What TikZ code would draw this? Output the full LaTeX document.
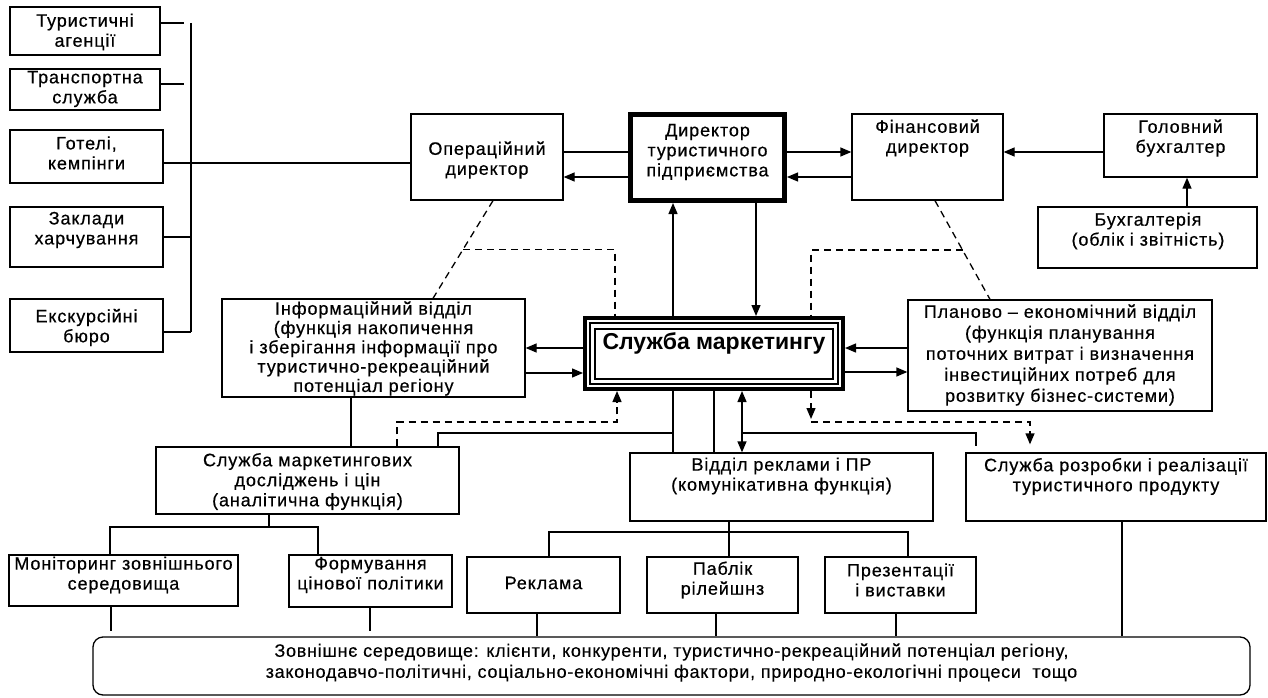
\documentclass[tikz,border=0pt]{standalone}
\usepackage{fontspec}
\newfontfamily\boxfont{Liberation Sans}[LetterSpace=5,FakeBold=0.5]
\newfontfamily\envfont{Liberation Sans}[LetterSpace=4,FakeBold=0.3]
\newfontfamily\headfont{Liberation Sans Bold}
\usetikzlibrary{arrows.meta,calc}
\begin{document}
\begin{tikzpicture}[x=1pt,y=-1pt,
  frame/.style={draw, line width=1.3pt, fill=white, inner sep=0pt},
  lbl/.style={align=center, inner sep=0pt, font=\boxfont\fontsize{18pt}{20pt}\selectfont},
  link/.style={line width=1.3pt},
  tip/.style={-{Triangle[length=11pt,width=9pt]}},
  dsh/.style={line width=1.3pt, dash pattern=on 7pt off 5pt},
]
\useasboundingbox (0,0) rectangle (1268,698);

% ---- boxes ----
\node[frame, minimum width=150pt, minimum height=48pt] (ta) at (85,31) {};
\node[frame, minimum width=150pt, minimum height=41pt] (ts) at (85,89.5) {};
\node[frame, minimum width=153pt, minimum height=53pt] (hk) at (86.5,156.5) {};
\node[frame, minimum width=153pt, minimum height=60pt] (zh) at (86.5,237) {};
\node[frame, minimum width=153pt, minimum height=53pt] (eb) at (86.5,325.5) {};

\node[frame, minimum width=152pt, minimum height=86pt] (op) at (487,157) {};
\node[frame, line width=5pt, minimum width=154pt, minimum height=86pt] (dir) at (707.5,157.5) {};
\node[frame, minimum width=151pt, minimum height=86pt] (fin) at (927.5,157) {};
\node[frame, minimum width=153pt, minimum height=63pt] (gb) at (1180.5,145.5) {};
\node[frame, minimum width=219pt, minimum height=61pt] (bh) at (1147.5,237.5) {};

\node[frame, minimum width=303pt, minimum height=98pt] (info) at (373.5,348) {};
\node[frame, line width=4pt, minimum width=258pt, minimum height=71pt] (sm) at (714,353.5) {};
\draw[line width=2pt] ($(sm.north west)+(7,7)$) rectangle ($(sm.south east)+(-7,-7)$);
\draw[line width=1.5pt] ($(sm.north west)+(12,13)$) rectangle ($(sm.south east)+(-12,-12)$);
\node[frame, minimum width=304pt, minimum height=111pt] (plan) at (1060,355.5) {};

\node[frame, minimum width=303pt, minimum height=67pt] (smd) at (307.5,480.5) {};
\node[frame, minimum width=303pt, minimum height=68pt] (vr) at (781.5,487) {};
\node[frame, minimum width=300pt, minimum height=68pt] (sr) at (1116,487) {};

\node[frame, minimum width=229pt, minimum height=51pt] (mon) at (123.5,580.5) {};
\node[frame, minimum width=163pt, minimum height=52pt] (form) at (370.5,581) {};
\node[frame, minimum width=153pt, minimum height=56pt] (rek) at (543.5,585) {};
\node[frame, minimum width=151pt, minimum height=56pt] (pub) at (722.5,585) {};
\node[frame, minimum width=151pt, minimum height=56pt] (pres) at (900.5,585) {};

\node[frame, rounded corners=10pt, minimum width=1157pt, minimum height=58pt] (env) at (671.5,666) {};

% ---- texts ----
\node[lbl] (ta-t) at (85,32) {Туристичні\\агенції};
\node[lbl] (ts-t) at (85,89) {Транспортна\\служба};
\node[lbl] (hk-t) at (86.5,153) {Готелі,\\кемпінги};
\node[lbl] (zh-t) at (86.5,230) {Заклади\\харчування};
\node[lbl] (eb-t) at (86.5,327.5) {Екскурсійні\\бюро};
\node[lbl] (op-t) at (487,160) {Операційний\\директор};
\node[lbl] (dir-t) at (707.5,152) {Директор\\туристичного\\підприємства};
\node[lbl] (fin-t) at (927.5,138) {Фінансовий\\директор};
\node[lbl] (gb-t) at (1180.5,138) {Головний\\бухгалтер};
\node[lbl] (bh-t) at (1148,231) {Бухгалтерія\\(облік і звітність)};
\node[lbl, font=\boxfont\fontsize{18pt}{19.3pt}\selectfont] (info-t) at (373.5,348.5)
  {Інформаційний відділ\\(функція накопичення\\і зберігання інформації про\\туристично-рекреаційний\\потенціал регіону};
\node[inner sep=0pt, font=\headfont\fontsize{23pt}{25pt}\selectfont] (sm-t) at (714,343) {Служба маркетингу};
\node[lbl, font=\boxfont\fontsize{18pt}{21pt}\selectfont] (plan-t) at (1060,355)
  {Планово – економічний відділ\\(функція планування\\поточних витрат і визначення\\інвестиційних потреб для\\розвитку бізнес-системи)};
\node[lbl] (smd-t) at (307.5,481.5) {Служба маркетингових\\досліджень і цін\\(аналітична функція)};
\node[lbl] (vr-t) at (781.5,476) {Відділ реклами і ПР\\(комунікативна функція)};
\node[lbl] (sr-t) at (1116,476.5) {Служба розробки і реалізації\\туристичного продукту};
\node[lbl] (mon-t) at (123.5,575) {Моніторинг зовнішнього\\середовища};
\node[lbl] (form-t) at (370.5,575) {Формування\\цінової політики};
\node[lbl] (rek-t) at (543.5,583) {Реклама};
\node[lbl] (pub-t) at (722.5,580) {Паблік\\рілейшнз};
\node[lbl] (pres-t) at (900.5,580) {Презентації\\і виставки};
\node[lbl, font=\envfont\fontsize{18pt}{21pt}\selectfont] (env-t) at (671.5,662.5)
  {Зовнішнє середовище: клієнти, конкуренти, туристично-рекреаційний потенціал регіону,\\законодавчо-політичні, соціально-економічні фактори, природно-екологічні процеси\ \ тощо};

% ---- suppliers bus ----
\coordinate (bus-a) at (191,23);
\coordinate (bus-b) at (191,332);
\coordinate (ta-end) at (184,23);
\coordinate (ts-end) at (184,84);
\draw[link] (bus-a) -- (bus-b);
\draw[link] (ta.east |- 0,23) -- (ta-end);
\draw[link] (ts.east |- 0,84) -- (ts-end);
\draw[link] (hk.east |- 0,163) -- (op.west |- 0,163);
\draw[link] (zh.east |- 0,237) -- (bus-b |- 0,237);
\draw[link] (eb.east |- 0,332) -- (bus-b);

% ---- top management ----
\draw[link] (op.east |- 0,152) -- (dir.west |- 0,152);
\draw[link,tip] (dir.west |- 0,177) -- (op.east |- 0,177);
\draw[link,tip] (dir.east |- 0,152) -- (fin.west |- 0,152);
\draw[link,tip] (fin.west |- 0,177) -- (dir.east |- 0,177);
\draw[link,tip] (gb.west |- 0,152) -- (fin.east |- 0,152);
\draw[link,tip] (bh.north -| 1187,0) -- (gb.south -| 1187,0);

% ---- director and marketing ----
\draw[link,tip] (sm.north -| 673,0) -- (dir.south -| 673,0);
\draw[link,tip] (dir.south -| 756,0) -- (sm.north -| 756,0);

\draw[link,tip] (sm.west |- 0,348) -- (info.east |- 0,348);
\draw[link,tip] (info.east |- 0,373) -- (sm.west |- 0,373);
\draw[link,tip] (plan.west |- 0,348) -- (sm.east |- 0,348);
\draw[link,tip] (sm.east |- 0,372) -- (plan.west |- 0,372);

% ---- dashed links ----
\coordinate (op-d) at (op.south -| 493,0);
\coordinate (info-d) at (info.north -| 433,0);
\draw[dsh] (op-d) -- (info-d);
\draw[dsh] ($(op-d)!0.5!(info-d)$) -| (sm.north -| 615,0);

\coordinate (fin-d) at (fin.south -| 935,0);
\coordinate (plan-d) at (plan.north -| 990,0);
\draw[dsh] (fin-d) -- (plan-d);
\draw[dsh] ($(fin-d)!0.5!(plan-d)$) -| (sm.north -| 811,0);
\coordinate (sm-d) at (811,419);
\coordinate (sm-e) at (811,422);
\draw[dsh,tip] (sm.south -| 811,0) -- (sm-d);
\draw[dsh,tip,shorten >=8pt] (sm-e) -| (sr.north -| 1030,0);

\draw[dsh,tip] (smd.north -| 397,0) -- (397,422) -- (617,422) -- (sm.south -| 617,0);

% ---- departments ----
\draw[link] (info.south -| 351,0) -- (smd.north -| 351,0);
\draw[link] (sm.south -| 673,0) -- (vr.north -| 673,0);
\draw[link] (smd.north -| 438,0) |- (673,433);
\draw[link] (sm.south -| 714,0) -- (vr.north -| 714,0);
\draw[link,{Triangle[length=11pt,width=9pt]}-{Triangle[length=11pt,width=9pt]}] (sm.south -| 742,0) -- (vr.north -| 742,0);
\draw[link] (742,433) -| ($(sr.north -| 976,0)+(0,-6)$);

\draw[link] (smd.south -| 269,0) -- (269,527);
\draw[link] (mon.north -| 110,0) -- (110,527) -- (318,527) -- (form.north -| 318,0);
\draw[link] (vr.south -| 729,0) -- (pub.north -| 729,0);
\draw[link] (rek.north -| 549,0) -- (549,532) -- (908,532) -- (pres.north -| 908,0);

% ---- to the environment ----
\draw[link] (mon.south -| 111,0) -- ($(env.north -| 111,0)+(0,-5)$);
\draw[link] (form.south -| 370,0) -- ($(env.north -| 370,0)+(0,-5)$);
\draw[link] (rek.south -| 537,0) -- (env.north -| 537,0);
\draw[link] (pub.south -| 716,0) -- (env.north -| 716,0);
\draw[link] (pres.south -| 896,0) -- (env.north -| 896,0);
\draw[link] (sr.south -| 1122,0) -- (env.north -| 1122,0);
\end{tikzpicture}
\end{document}
